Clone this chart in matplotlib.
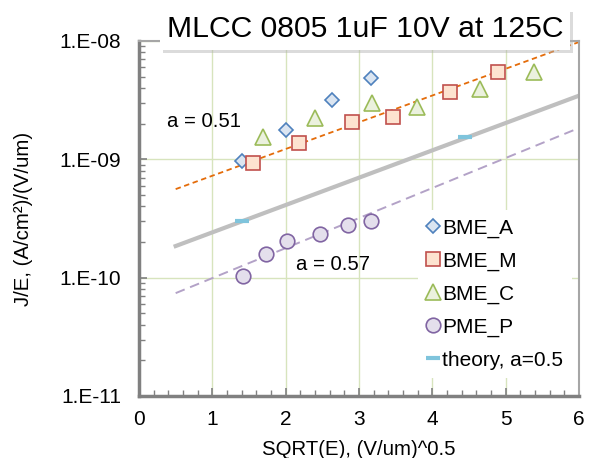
import numpy as np
import matplotlib
matplotlib.use("Agg")
import matplotlib.pyplot as plt
import matplotlib.patheffects as pe
from matplotlib.ticker import FixedLocator, MultipleLocator, LogLocator, FuncFormatter, NullFormatter

plt.rcParams["font.family"] = ["Liberation Sans", "DejaVu Sans"]

# data
bme_a_x = [1.41, 2.00, 2.63, 3.16]
bme_a_y = [0.97e-9, 1.77e-9, 3.17e-9, 4.87e-9]

bme_m_x = [1.56, 2.18, 2.90, 3.47, 4.24, 4.90]
bme_m_y = [0.94e-9, 1.37e-9, 2.07e-9, 2.28e-9, 3.71e-9, 5.47e-9]

bme_c_x = [1.69, 2.40, 3.18, 3.79, 4.65, 5.38]
bme_c_y = [1.55e-9, 2.23e-9, 2.99e-9, 2.77e-9, 3.93e-9, 5.47e-9]

pme_p_x = [1.42, 1.73, 2.02, 2.47, 2.85, 3.17]
pme_p_y = [1.03e-10, 1.58e-10, 2.04e-10, 2.34e-10, 2.79e-10, 3.00e-10]

theory_x = [1.41, 4.45]
theory_y = [3.0e-10, 1.55e-9]

# trendline end points
theory_fit_x = [0.5, 6.0]
theory_fit_y = [1.85e-10, 3.45e-9]
bme_fit_x = [0.5, 6.0]
bme_fit_y = [5.6e-10, 9.8e-9]
pme_fit_x = [0.5, 6.0]
pme_fit_y = [7.4e-11, 1.84e-9]

y_ticks = [1e-11, 1e-10, 1e-9, 1e-8]
x_ticks = [0, 1, 2, 3, 4, 5, 6]

fig = plt.figure(figsize=(5.92, 4.58), dpi=100)
ax = fig.add_axes([0.2348, 0.1354, 0.7432, 0.7751])

ax.plot(theory_fit_x, theory_fit_y, color="#bfbfbf", lw=3, zorder=2)
ax.plot(bme_fit_x, bme_fit_y, color="#e46c0a", lw=1.3, dashes=(3, 2), zorder=2)
ax.plot(pme_fit_x, pme_fit_y, color="#b3a2c7", lw=1.4, dashes=(5, 3), zorder=2)

ax.plot(bme_a_x, bme_a_y, ls="none", marker="D", ms=7, mfc="#dbe5f1", mec="#4f81bd",
        mew=1.2, label="BME_A", zorder=3)
ax.plot(bme_m_x, bme_m_y, ls="none", marker="s", ms=9.5, mfc="#fde3d0", mec="#c0504d",
        mew=1.2, label="BME_M", zorder=3)
ax.plot(bme_c_x, bme_c_y, ls="none", marker="^", ms=11, mfc="#ebf1de", mec="#9bbb59",
        mew=1.2, label="BME_C", zorder=3)
ax.plot(pme_p_x, pme_p_y, ls="none", marker="o", ms=10.5, mfc="#e4dfec", mec="#8064a2",
        mew=1.2, label="PME_P", zorder=3)
ax.plot(theory_x, theory_y, ls="none", marker="_", ms=10, mec="#7fc4dc", mew=3,
        label="theory, a=0.5", zorder=3)

ax.set_yscale("log")
ax.set_xlim(0, 6)
ax.set_ylim(1e-11, 1e-8)

ax.xaxis.set_major_locator(FixedLocator(x_ticks))
ax.xaxis.set_minor_locator(MultipleLocator(0.2))
ax.yaxis.set_major_locator(FixedLocator(y_ticks))
ax.yaxis.set_minor_locator(LogLocator(base=10, subs=np.arange(2, 10)))
ax.yaxis.set_minor_formatter(NullFormatter())
ax.yaxis.set_major_formatter(FuncFormatter(lambda v, p: f"1.E{int(round(np.log10(v))):03d}"))

ax.tick_params(which="both", direction="in", colors="#808080", labelcolor="black",
               labelsize=15)
ax.tick_params(which="major", length=6, width=1.2)
ax.tick_params(which="minor", length=4, width=1)
ax.tick_params(axis="y", pad=13)
ax.tick_params(axis="x", pad=10)

ax.grid(True, which="major", color="#d7e4bd", lw=1, zorder=0)
ax.set_axisbelow(True)

for side in ["left", "bottom"]:
    ax.spines[side].set_color("#808080")
    ax.spines[side].set_linewidth(2.5)
for side in ["top", "right"]:
    ax.spines[side].set_color("#a6a6a6")
    ax.spines[side].set_linewidth(1.5)

ax.set_ylabel("J/E, (A/cm²)/(V/um)", fontsize=14.7)
ax.set_xlabel("SQRT(E), (V/um)^0.5", fontsize=14.7)
ax.yaxis.set_label_coords(-0.24, 0.5)
ax.xaxis.set_label_coords(0.5, -0.124)

ax.text(0.38, 2.07e-9, "a = 0.51", fontsize=14.6, va="center", ha="left")
ax.text(2.14, 1.28e-10, "a = 0.57", fontsize=14.6, va="center", ha="left")

leg = ax.legend(loc="upper left", bbox_to_anchor=(0.611, 0.552), fontsize=15,
                frameon=True, framealpha=1, edgecolor="none", facecolor="white",
                handlelength=0.6, handletextpad=0.15, labelspacing=0.66,
                borderpad=0.4, fancybox=False)
leg.set_zorder(2.4)

title = fig.text(0.6166, 0.9367, "MLCC 0805 1uF 10V at 125C", fontsize=21.7,
                 ha="center", va="center",
                 bbox=dict(boxstyle="square,pad=0.22", fc="white", ec="none"))
title.get_bbox_patch().set_path_effects(
    [pe.withSimplePatchShadow(offset=(2, -2.5), shadow_rgbFace="#b0b0b0", alpha=0.45)])

fig.savefig("out.png", dpi=100)
